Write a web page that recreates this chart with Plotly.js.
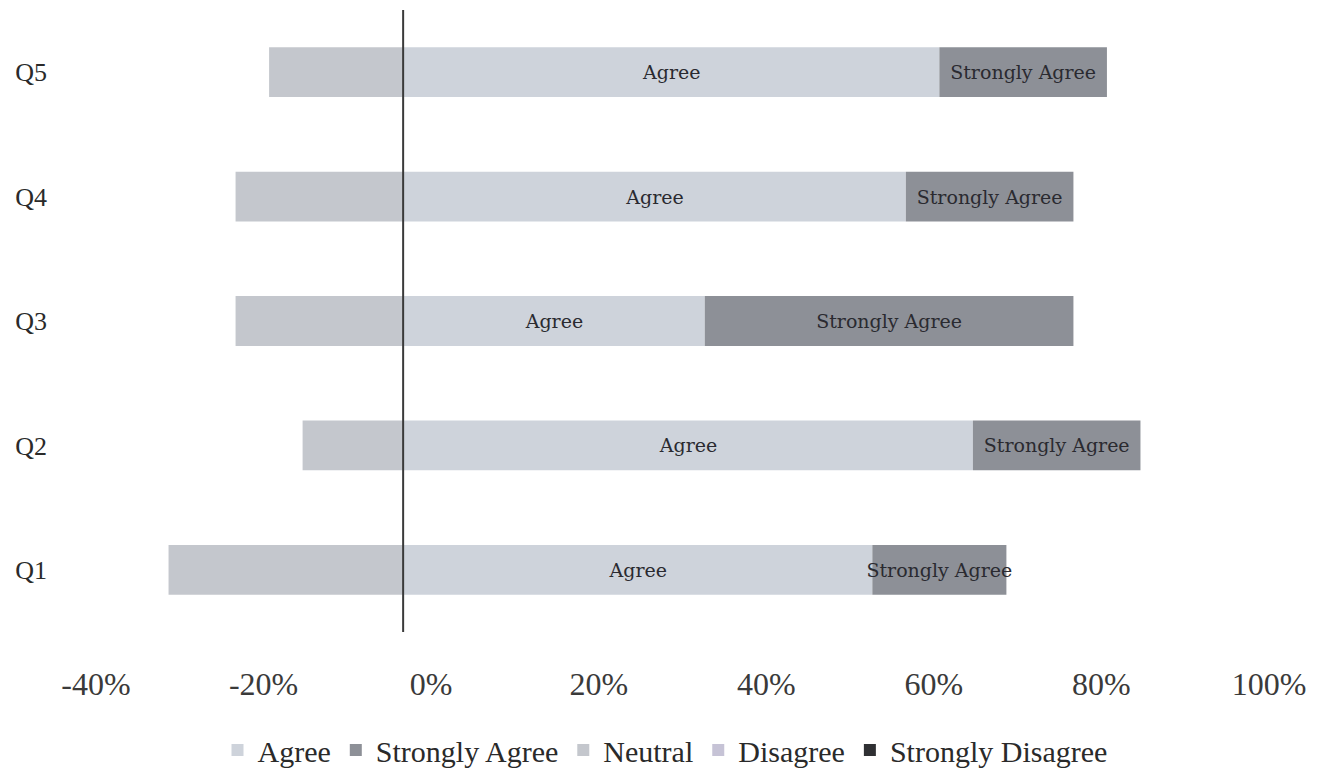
<!DOCTYPE html>
<html>
<head>
<meta charset="utf-8">
<script src="https://cdn.plot.ly/plotly-3.0.1.min.js"></script>
<style>html,body{margin:0;padding:0;background:#fff;}#chart{width:1330px;height:774px;}</style>
</head>
<body>
<div id="chart"></div>
<script>
// Data (percent of responses)
const questions = ["Q1", "Q2", "Q3", "Q4", "Q5"];
const agree = [56, 68, 36, 60, 64];
const stronglyAgree = [16, 20, 44, 20, 20];
const neutral = [-28, -12, -20, -20, -16];
const disagree = [0, 0, 0, 0, 0];
const stronglyDisagree = [0, 0, 0, 0, 0];
const tickValues = [-40, -20, 0, 20, 40, 60, 80, 100];
const tickLabels = ["-40%", "-20%", "0%", "20%", "40%", "60%", "80%", "100%"];

const barText = {family: "DejaVu Serif", size: 19, color: "#2a2a30"};
const common = {type: "bar", orientation: "h", y: questions, hoverinfo: "x+name"};

const traces = [
  Object.assign({}, common, {name: "Agree", x: agree, marker: {color: "#ced3db"},
    text: "Agree", textposition: "inside", insidetextanchor: "middle", textangle: 0,
    constraintext: "none", textfont: barText}),
  Object.assign({}, common, {name: "Strongly Agree", x: stronglyAgree, marker: {color: "#8d9097"},
    text: "Strongly Agree", textposition: "inside", insidetextanchor: "middle", textangle: 0,
    constraintext: "none", textfont: barText}),
  Object.assign({}, common, {name: "Neutral", x: neutral, marker: {color: "#c4c7cd"}}),
  Object.assign({}, common, {name: "Disagree", x: disagree, marker: {color: "#c6c3d6"}}),
  Object.assign({}, common, {name: "Strongly Disagree", x: stronglyDisagree, marker: {color: "#2f3033"}})
];

const layout = {
  width: 1330, height: 774,
  paper_bgcolor: "#ffffff", plot_bgcolor: "#ffffff",
  barmode: "relative", bargap: 0.6,
  margin: {l: 68, r: 89, t: 10, b: 142},
  font: {family: "Liberation Serif", color: "#333"},
  xaxis: {
    range: [-40, 100], tickvals: tickValues, ticktext: tickLabels,
    showgrid: false, zeroline: false, showline: false, ticks: "",
    tickfont: {family: "Liberation Serif", size: 32, color: "#3a3a3a"},
    ticklabelshift: 28, ticklabelstandoff: 30, fixedrange: true
  },
  yaxis: {
    type: "category", categoryorder: "array", categoryarray: questions,
    showgrid: false, zeroline: false, showline: false, ticks: "",
    tickfont: {family: "Liberation Serif", size: 26, color: "#2a2a2a"},
    ticklabelstandoff: 20, fixedrange: true
  },
  shapes: [{type: "line", xref: "x", yref: "paper", x0: 0, x1: 0, y0: 0, y1: 1,
    line: {color: "#3a3a3a", width: 2}, layer: "above"}],
  showlegend: true,
  legend: {
    orientation: "h", x: 0.5, xanchor: "center", xref: "container",
    y: 0.031, yanchor: "middle", yref: "container", traceorder: "normal",
    font: {family: "Liberation Serif", size: 30, color: "#2a2a2a"},
    itemwidth: 30, bgcolor: "rgba(0,0,0,0)"
  }
};

Plotly.newPlot("chart", traces, layout, {displayModeBar: false, staticPlot: true});
</script>
</body>
</html>
